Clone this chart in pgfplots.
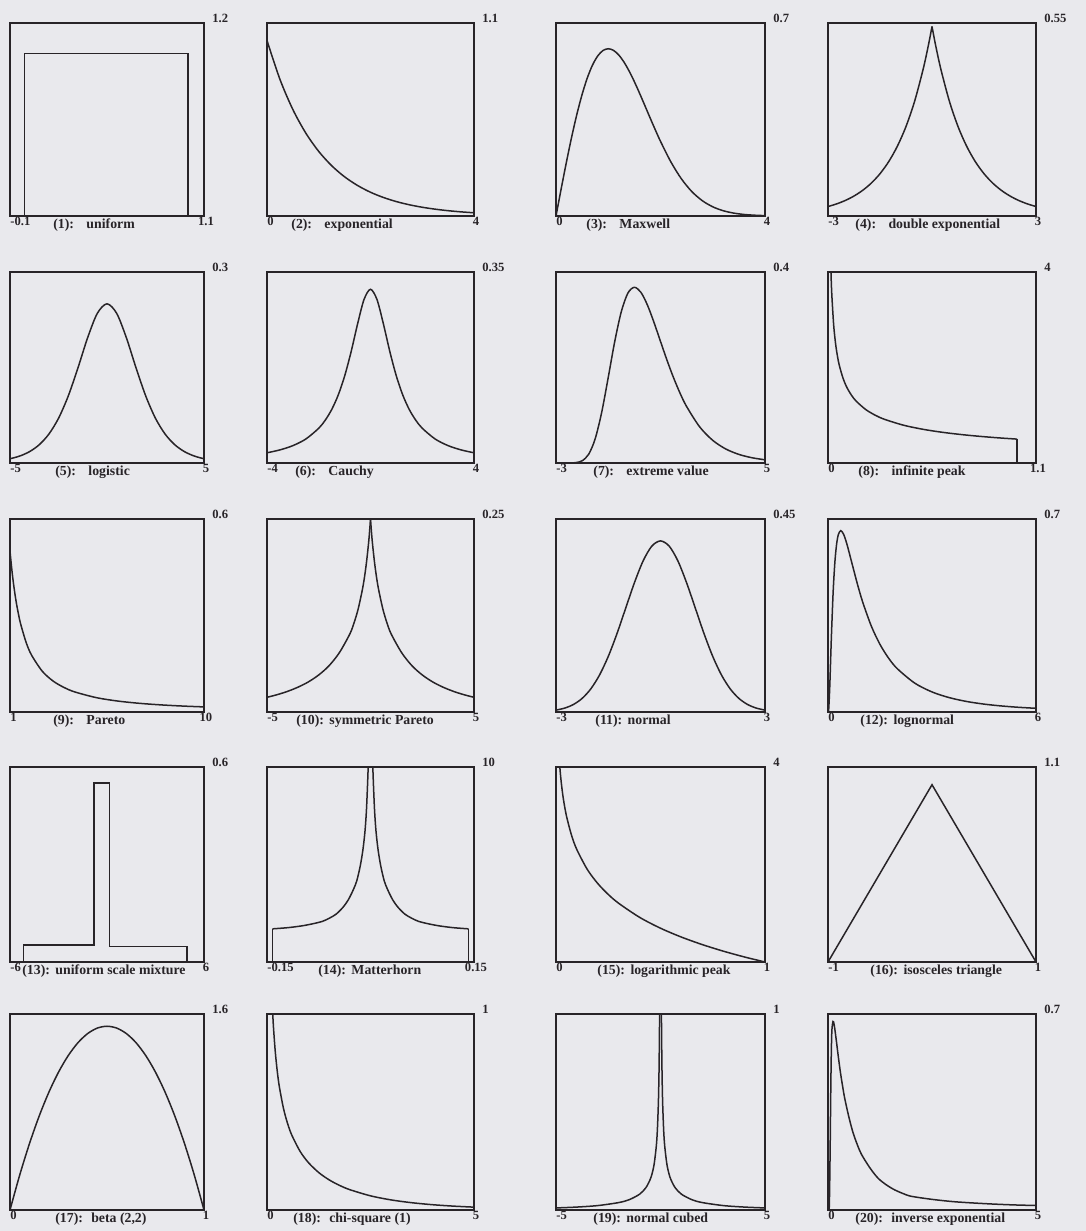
\documentclass[border=0pt]{standalone}
\usepackage{pgfplots}
\pgfplotsset{compat=1.18}
\usepackage{fontspec}
\setmainfont{Liberation Serif}
\definecolor{bg}{RGB}{233,233,237}
\definecolor{ink}{RGB}{40,36,40}
\pgfplotsset{
  panel/.style={scale only axis, axis lines=box, xtick=\empty, ytick=\empty, ymin=0,
    anchor=south west, clip=true,
    axis line style={draw=ink, line width=0.55pt}},
  cv/.style={ink, line width=0.75pt, mark=none},
  c1/.style={width=97pt}, c2/.style={width=103.5pt}, c3/.style={width=104.5pt}, c4/.style={width=104pt},
  r1/.style={height=96.5pt}, r2/.style={height=95.5pt}, r3/.style={height=96.5pt},
  r4/.style={height=97.5pt}, r5/.style={height=98pt}
}
\newcommand{\capfont}{\fontsize{6.9}{7.5}\selectfont\bfseries}
\newcommand{\lab}[6]{%
 \node[anchor=base west] at ([yshift=-5pt]#1.south west) {#2};
 \node[anchor=base] at ([xshift=1pt,yshift=-5pt]#1.south east) {#3};
 \node[anchor=base west] at ([xshift=4pt,yshift=0.3pt]#1.north east) {#4};
 \node[anchor=base west, font=\capfont] at ([xshift=#5,yshift=-6.3pt]#1.south west) {#6};}
\begin{document}
\begin{tikzpicture}[every node/.style={inner sep=0pt, font=\fontsize{6.3}{7}\selectfont\bfseries, text=ink}]
\fill[bg] (0,0) rectangle (543pt,615.5pt);

% ---------------- Row 1 ----------------
\begin{axis}[panel, c1, r1, name=p1, at={(5pt,507.5pt)}, xmin=-0.1, xmax=1.1, ymax=1.2]
\addplot[cv] coordinates {(-0.1,0)(-0.01,0)(-0.01,1.01)(1,1.01)(1,0)(1.1,0)};
\end{axis}
\begin{axis}[panel, c2, r1, name=p2, at={(133.5pt,507.5pt)}, xmin=0, xmax=4, ymax=1.1]
\addplot[cv, smooth] coordinates {(0,1)(0.25,0.7788)(0.5,0.6065)(0.75,0.4724)(1,0.3679)(1.25,0.2865)(1.5,0.2231)(1.75,0.1738)(2,0.1353)(2.25,0.1054)(2.5,0.0821)(2.75,0.0639)(3,0.0498)(3.25,0.0388)(3.5,0.0302)(3.75,0.0235)(4,0.0183)};
\end{axis}
\begin{axis}[panel, c3, r1, name=p3, at={(278pt,507.5pt)}, xmin=0, xmax=4, ymax=0.7]
\addplot[cv, smooth] coordinates {(0,0)(0.1,0.0995)(0.2,0.1960)(0.3,0.2868)(0.4,0.3692)(0.5,0.4412)(0.6,0.5012)(0.7,0.5479)(0.8,0.5809)(0.9,0.6003)(1.0,0.6065)(1.1,0.6007)(1.2,0.5841)(1.3,0.5585)(1.4,0.5254)(1.5,0.4870)(1.6,0.4448)(1.7,0.4007)(1.8,0.3562)(1.9,0.3126)(2.0,0.2707)(2.2,0.1956)(2.4,0.1347)(2.6,0.0884)(2.8,0.0555)(3.0,0.0333)(3.2,0.0191)(3.4,0.0105)(3.6,0.0055)(3.8,0.0028)(4.0,0.0013)};
\end{axis}
\begin{axis}[panel, c4, r1, name=p4, at={(414pt,507.5pt)}, xmin=-3, xmax=3, ymax=0.55]
\addplot[cv, smooth] coordinates {(-3,0.0269)(-2.75,0.0345)(-2.5,0.0443)(-2.25,0.0569)(-2,0.0731)(-1.75,0.0938)(-1.5,0.1205)(-1.25,0.1547)(-1,0.1987)(-0.75,0.2551)(-0.5,0.3275)(-0.25,0.4206)(-0.1,0.4886)(0,0.54)};
\addplot[cv, smooth] coordinates {(0,0.54)(0.1,0.4886)(0.25,0.4206)(0.5,0.3275)(0.75,0.2551)(1,0.1987)(1.25,0.1547)(1.5,0.1205)(1.75,0.0938)(2,0.0731)(2.25,0.0569)(2.5,0.0443)(2.75,0.0345)(3,0.0269)};
\end{axis}

% ---------------- Row 2 ----------------
\begin{axis}[panel, c1, r2, name=p5, at={(5pt,384pt)}, xmin=-5, xmax=5, ymax=0.3]
\addplot[cv, smooth] coordinates {(-5,0.0066)(-4.5,0.0109)(-4,0.0177)(-3.5,0.0285)(-3,0.0452)(-2.5,0.0701)(-2,0.1050)(-1.5,0.1491)(-1,0.1966)(-0.5,0.2350)(0,0.25)(0.5,0.2350)(1,0.1966)(1.5,0.1491)(2,0.1050)(2.5,0.0701)(3,0.0452)(3.5,0.0285)(4,0.0177)(4.5,0.0109)(5,0.0066)};
\end{axis}
\begin{axis}[panel, c2, r2, name=p6, at={(133.5pt,384pt)}, xmin=-4, xmax=4, ymax=0.35]
\addplot[cv, smooth] coordinates {(-4,0.0187)(-3.5,0.0240)(-3,0.0318)(-2.5,0.0439)(-2,0.0637)(-1.75,0.0784)(-1.5,0.0979)(-1.25,0.1242)(-1,0.1592)(-0.75,0.2037)(-0.5,0.2546)(-0.25,0.2996)(0,0.3183)(0.25,0.2996)(0.5,0.2546)(0.75,0.2037)(1,0.1592)(1.25,0.1242)(1.5,0.0979)(1.75,0.0784)(2,0.0637)(2.5,0.0439)(3,0.0318)(3.5,0.0240)(4,0.0187)};
\end{axis}
\begin{axis}[panel, c3, r2, name=p7, at={(278pt,384pt)}, xmin=-3, xmax=5, ymax=0.4]
\addplot[cv, smooth] coordinates {(-3,0)(-2.5,0.0001)(-2.25,0.0007)(-2,0.0046)(-1.75,0.0182)(-1.5,0.0507)(-1.25,0.1064)(-1,0.1794)(-0.75,0.2549)(-0.5,0.3170)(-0.25,0.3556)(0,0.3679)(0.25,0.3574)(0.5,0.3307)(0.75,0.2945)(1,0.2546)(1.25,0.2151)(1.5,0.1785)(1.75,0.1460)(2,0.1182)(2.5,0.0756)(3,0.0474)(3.5,0.0293)(4,0.0180)(4.5,0.0110)(5,0.0067)};
\end{axis}
\begin{axis}[panel, c4, r2, name=p8, at={(414pt,384pt)}, xmin=0, xmax=1.1, ymax=4]
\addplot[cv, smooth] coordinates {(0.0125,4.472)(0.0156,4.0)(0.02,3.536)(0.03,2.887)(0.04,2.5)(0.05,2.236)(0.06,2.041)(0.08,1.768)(0.1,1.581)(0.125,1.414)(0.15,1.291)(0.2,1.118)(0.25,1.0)(0.3,0.9129)(0.4,0.7906)(0.5,0.7071)(0.6,0.6455)(0.7,0.5976)(0.8,0.5590)(0.9,0.5270)(1.0,0.5)};
\addplot[cv] coordinates {(1,0.5)(1,0)(1.1,0)};
\end{axis}

% ---------------- Row 3 ----------------
\begin{axis}[panel, c1, r3, name=p9, at={(5pt,259.5pt)}, xmin=1, xmax=10, ymax=0.6]
\addplot[cv, smooth] coordinates {(1,0.5)(1.1,0.4334)(1.2,0.3804)(1.3,0.3373)(1.4,0.3018)(1.5,0.2722)(1.75,0.2160)(2,0.1768)(2.5,0.1265)(3,0.0962)(3.5,0.0764)(4,0.0625)(5,0.0447)(6,0.0340)(7,0.0270)(8,0.0221)(9,0.0185)(10,0.0158)};
\end{axis}
\begin{axis}[panel, c2, r3, name=p10, at={(133.5pt,259.5pt)}, xmin=-5, xmax=5, ymax=0.25]
\addplot[cv, smooth] coordinates {(-5,0.0190)(-4.5,0.0225)(-4,0.0268)(-3.5,0.0322)(-3,0.0390)(-2.5,0.0480)(-2,0.0600)(-1.5,0.0770)(-1,0.1010)(-0.8,0.1150)(-0.6,0.1330)(-0.4,0.1575)(-0.3,0.1730)(-0.2,0.1925)(-0.1,0.2170)(-0.05,0.2320)(0,0.25)};
\addplot[cv, smooth] coordinates {(0,0.25)(0.05,0.2320)(0.1,0.2170)(0.2,0.1925)(0.3,0.1730)(0.4,0.1575)(0.6,0.1330)(0.8,0.1150)(1,0.1010)(1.5,0.0770)(2,0.0600)(2.5,0.0480)(3,0.0390)(3.5,0.0322)(4,0.0268)(4.5,0.0225)(5,0.0190)};
\end{axis}
\begin{axis}[panel, c3, r3, name=p11, at={(278pt,259.5pt)}, xmin=-3, xmax=3, ymax=0.45]
\addplot[cv, smooth] coordinates {(-3,0.0044)(-2.75,0.0091)(-2.5,0.0175)(-2.25,0.0317)(-2,0.0540)(-1.75,0.0863)(-1.5,0.1295)(-1.25,0.1826)(-1,0.2420)(-0.75,0.3011)(-0.5,0.3521)(-0.25,0.3867)(0,0.3989)(0.25,0.3867)(0.5,0.3521)(0.75,0.3011)(1,0.2420)(1.25,0.1826)(1.5,0.1295)(1.75,0.0863)(2,0.0540)(2.25,0.0317)(2.5,0.0175)(2.75,0.0091)(3,0.0044)};
\end{axis}
\begin{axis}[panel, c4, r3, name=p12, at={(414pt,259.5pt)}, xmin=0, xmax=6, ymax=0.7]
\addplot[cv, smooth] coordinates {(0,0)(0.02,0.0095)(0.05,0.0898)(0.08,0.2054)(0.1,0.2815)(0.15,0.4399)(0.2,0.5464)(0.25,0.6104)(0.3,0.6442)(0.368,0.6576)(0.45,0.6445)(0.55,0.6067)(0.7,0.5348)(0.85,0.4632)(1,0.3989)(1.25,0.3113)(1.5,0.2450)(1.75,0.1949)(2,0.1569)(2.5,0.1049)(3,0.0727)(3.5,0.0520)(4,0.0381)(4.5,0.0286)(5,0.0219)(5.5,0.0170)(6,0.0134)};
\end{axis}

% ---------------- Row 4 ----------------
\begin{axis}[panel, c1, r4, name=p13, at={(5pt,134.5pt)}, xmin=-6, xmax=6, ymax=0.6]
\addplot[cv] coordinates {(-6,0)(-5.15,0)(-5.15,0.053)(-0.8,0.053)(-0.8,0.55)(0.15,0.55)(0.15,0.048)(4.95,0.048)(4.95,0)(6,0)};
\end{axis}
\begin{axis}[panel, c2, r4, name=p14, at={(133.5pt,134.5pt)}, xmin=-0.15, xmax=0.15, ymax=10]
\addplot[cv] coordinates {(-0.15,0)(-0.142,0)(-0.142,1.70)};
\addplot[cv, smooth] coordinates {(-0.142,1.70)(-0.12,1.76)(-0.10,1.85)(-0.085,1.95)(-0.07,2.08)(-0.06,2.24)(-0.05,2.45)(-0.04,2.80)(-0.032,3.20)(-0.025,3.70)(-0.02,4.15)(-0.015,4.90)(-0.011,5.75)(-0.008,6.70)(-0.006,7.70)(-0.0045,8.90)(-0.0034,10.0)(-0.0025,11.7)};
\addplot[cv, smooth] coordinates {(0.0025,11.7)(0.0034,10.0)(0.0045,8.90)(0.006,7.70)(0.008,6.70)(0.011,5.75)(0.015,4.90)(0.02,4.15)(0.025,3.70)(0.032,3.20)(0.04,2.80)(0.05,2.45)(0.06,2.24)(0.07,2.08)(0.085,1.95)(0.10,1.85)(0.12,1.76)(0.142,1.70)};
\addplot[cv] coordinates {(0.142,1.70)(0.142,0)(0.15,0)};
\end{axis}
\begin{axis}[panel, c3, r4, name=p15, at={(278pt,134.5pt)}, xmin=0, xmax=1, ymax=4]
\addplot[cv, smooth] coordinates {(0.012,4.42)(0.0183,4)(0.025,3.689)(0.035,3.352)(0.05,2.996)(0.075,2.590)(0.1,2.303)(0.15,1.897)(0.2,1.609)(0.25,1.386)(0.3,1.204)(0.4,0.916)(0.5,0.693)(0.6,0.511)(0.7,0.357)(0.8,0.223)(0.9,0.105)(1,0)};
\end{axis}
\begin{axis}[panel, c4, r4, name=p16, at={(414pt,134.5pt)}, xmin=-1, xmax=1, ymax=1.1]
\addplot[cv] coordinates {(-1,0)(0,1)(1,0)};
\end{axis}

% ---------------- Row 5 ----------------
\begin{axis}[panel, c1, r5, name=p17, at={(5pt,10.5pt)}, xmin=0, xmax=1, ymax=1.6]
\addplot[cv, smooth] coordinates {(0,0)(0.05,0.285)(0.1,0.54)(0.15,0.765)(0.2,0.96)(0.25,1.125)(0.3,1.26)(0.35,1.365)(0.4,1.44)(0.45,1.485)(0.5,1.5)(0.55,1.485)(0.6,1.44)(0.65,1.365)(0.7,1.26)(0.75,1.125)(0.8,0.96)(0.85,0.765)(0.9,0.54)(0.95,0.285)(1,0)};
\end{axis}
\begin{axis}[panel, c2, r5, name=p18, at={(133.5pt,10.5pt)}, xmin=0, xmax=5, ymax=1]
\addplot[cv, smooth] coordinates {(0.12,1.0847)(0.14,0.994)(0.16,0.9207)(0.2,0.8071)(0.25,0.7041)(0.3,0.6269)(0.4,0.5164)(0.5,0.4394)(0.6,0.3815)(0.8,0.2990)(1,0.2420)(1.25,0.1910)(1.5,0.1539)(1.75,0.1257)(2,0.1038)(2.5,0.0723)(3,0.0514)(3.5,0.0371)(4,0.0270)(4.5,0.0198)(5,0.0146)};
\end{axis}
\begin{axis}[panel, c3, r5, name=p19, at={(278pt,10.5pt)}, xmin=-5, xmax=5, ymax=1]
\addplot[cv, smooth] coordinates {(-5,0.0105)(-4,0.0150)(-3,0.0226)(-2,0.0379)(-1.5,0.0526)(-1,0.0807)(-0.7,0.1138)(-0.5,0.1545)(-0.4,0.1867)(-0.3,0.2372)(-0.2,0.3276)(-0.15,0.4088)(-0.1,0.5544)(-0.07,0.7186)(-0.05,0.9155)(-0.04,1.071)};
\addplot[cv, smooth] coordinates {(0.04,1.071)(0.05,0.9155)(0.07,0.7186)(0.1,0.5544)(0.15,0.4088)(0.2,0.3276)(0.3,0.2372)(0.4,0.1867)(0.5,0.1545)(0.7,0.1138)(1,0.0807)(1.5,0.0526)(2,0.0379)(3,0.0226)(4,0.0150)(5,0.0105)};
\end{axis}
\begin{axis}[panel, c4, r5, name=p20, at={(414pt,10.5pt)}, xmin=0, xmax=5, ymax=0.7]
\addplot[cv, smooth] coordinates {(0,0)(0.03,0.01)(0.05,0.2)(0.07,0.47)(0.09,0.63)(0.12,0.673)(0.15,0.66)(0.2,0.605)(0.25,0.545)(0.3,0.49)(0.35,0.443)(0.4,0.40)(0.5,0.333)(0.6,0.277)(0.7,0.235)(0.8,0.200)(1.0,0.152)(1.2,0.114)(1.4,0.090)(1.6,0.072)(1.8,0.059)(2.0,0.049)(2.5,0.038)(3,0.030)(3.5,0.025)(4,0.021)(4.5,0.018)(5,0.016)};
\end{axis}

% ---------------- Labels ----------------
\lab{p1}{-0.1}{1.1}{1.2}{21.5pt}{(1):\hspace{0.9em}uniform}
\lab{p2}{0}{4}{1.1}{12pt}{(2):\hspace{0.9em}exponential}
\lab{p3}{0}{4}{0.7}{15pt}{(3):\hspace{0.9em}Maxwell}
\lab{p4}{-3}{3}{0.55}{13.5pt}{(4):\hspace{0.9em}double exponential}
\lab{p5}{-5}{5}{0.3}{22.5pt}{(5):\hspace{0.9em}logistic}
\lab{p6}{-4}{4}{0.35}{14pt}{(6):\hspace{0.9em}Cauchy}
\lab{p7}{-3}{5}{0.4}{18.5pt}{(7):\hspace{0.9em}extreme value}
\lab{p8}{0}{1.1}{4}{15pt}{(8):\hspace{0.9em}infinite peak}
\lab{p9}{1}{10}{0.6}{21.5pt}{(9):\hspace{0.9em}Pareto}
\lab{p10}{-5}{5}{0.25}{14.5pt}{(10):\hspace{0.4em}symmetric Pareto}
\lab{p11}{-3}{3}{0.45}{19.5pt}{(11):\hspace{0.4em}normal}
\lab{p12}{0}{6}{0.7}{16pt}{(12):\hspace{0.4em}lognormal}
\lab{p13}{-6}{6}{0.6}{6pt}{(13):\hspace{0.4em}uniform scale mixture}
\lab{p14}{-0.15}{0.15}{10}{25.5pt}{(14):\hspace{0.4em}Matterhorn}
\lab{p15}{0}{1}{4}{20.5pt}{(15):\hspace{0.4em}logarithmic peak}
\lab{p16}{-1}{1}{1.1}{21pt}{(16):\hspace{0.4em}isosceles triangle}
\lab{p17}{0}{1}{1.6}{22.5pt}{(17):\hspace{0.6em}beta (2,2)}
\lab{p18}{0}{5}{1}{13pt}{(18):\hspace{0.6em}chi-square (1)}
\lab{p19}{-5}{5}{1}{18.5pt}{(19):\hspace{0.4em}normal cubed}
\lab{p20}{0}{5}{0.7}{13.5pt}{(20):\hspace{0.6em}inverse exponential}
\end{tikzpicture}
\end{document}
